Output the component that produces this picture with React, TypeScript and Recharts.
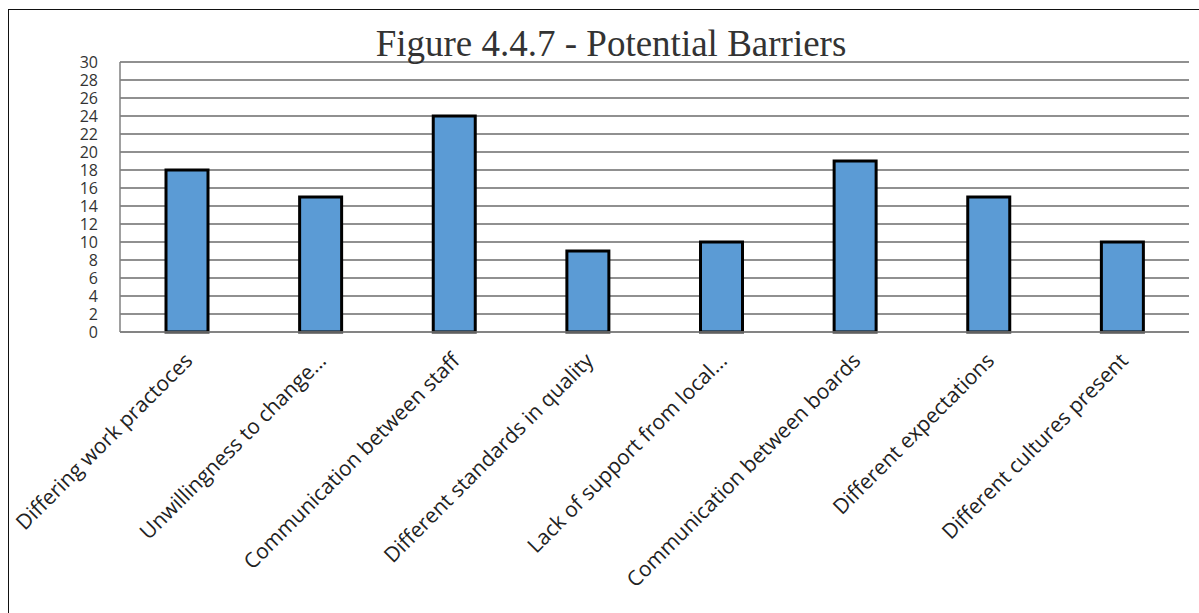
import React from "react";
import { BarChart, Bar, XAxis, YAxis, CartesianGrid } from "recharts";

const barriers = [
  "Differing work practoces",
  "Unwillingness to change...",
  "Communication between staff",
  "Different standards in quality",
  "Lack of support from local...",
  "Communication between boards",
  "Different expectations",
  "Different cultures present",
];
const counts = [18, 15, 24, 9, 10, 19, 15, 10];
const yTicks = [0, 2, 4, 6, 8, 10, 12, 14, 16, 18, 20, 22, 24, 26, 28, 30];

const data = barriers.map((name, i) => ({ name, count: counts[i] }));

const LABEL_FONT = "'Open Sans', Lato, sans-serif";

const CategoryTick = ({ x, y, payload }: any) => {
  const tx = x + 7;
  const ty = y + 22;
  return (
    <text
      x={tx}
      y={ty}
      transform={`rotate(-45, ${tx}, ${ty})`}
      textAnchor="end"
      fontFamily={LABEL_FONT}
      fontSize={21}
      fill="#222"
    >
      {payload.value}
    </text>
  );
};

const ValueTick = ({ y, payload }: any) => (
  <text
    x={98}
    y={y + 6}
    textAnchor="end"
    fontFamily={LABEL_FONT}
    fontSize={16}
    fill="#333"
  >
    {payload.value}
  </text>
);

export default function App() {
  return (
    <div style={{ position: "absolute", left: 0, top: 0, width: 1199, height: 613, background: "#fff", overflow: "hidden" }}>
      {/* frame */}
      <div
        style={{
          position: "absolute",
          left: 8,
          top: 9,
          width: 1220,
          height: 640,
          border: "1.5px solid #111",
          boxSizing: "border-box",
        }}
      />
      <div
        style={{
          position: "absolute",
          left: 0,
          top: 24,
          width: 1222,
          textAlign: "center",
          fontFamily: "'Liberation Serif', 'Times New Roman', serif",
          fontSize: 37,
          color: "#333",
          lineHeight: "40px",
        }}
      >
        Figure 4.4.7 - Potential Barriers
      </div>
      <div style={{ position: "absolute", left: 0, top: 0 }}>
        <BarChart
          width={1199}
          height={613}
          data={data}
          margin={{ top: 62, right: 10, left: 0, bottom: 0 }}
          barCategoryGap={0}
        >
          <CartesianGrid vertical={false} stroke="#222" strokeWidth={1.2} />
          <XAxis
            dataKey="name"
            interval={0}
            height={281}
            tickLine={false}
            axisLine={{ stroke: "#808080", strokeWidth: 1.5 }}
            tick={<CategoryTick />}
          />
          <YAxis
            width={120}
            domain={[0, 30]}
            ticks={yTicks}
            interval={0}
            tickLine={false}
            axisLine={{ stroke: "#808080", strokeWidth: 1.5 }}
            tick={<ValueTick />}
          />
          <Bar
            dataKey="count"
            fill="#5B9BD5"
            stroke="#000"
            strokeWidth={3}
            barSize={42}
            isAnimationActive={false}
          />
        </BarChart>
      </div>
    </div>
  );
}
